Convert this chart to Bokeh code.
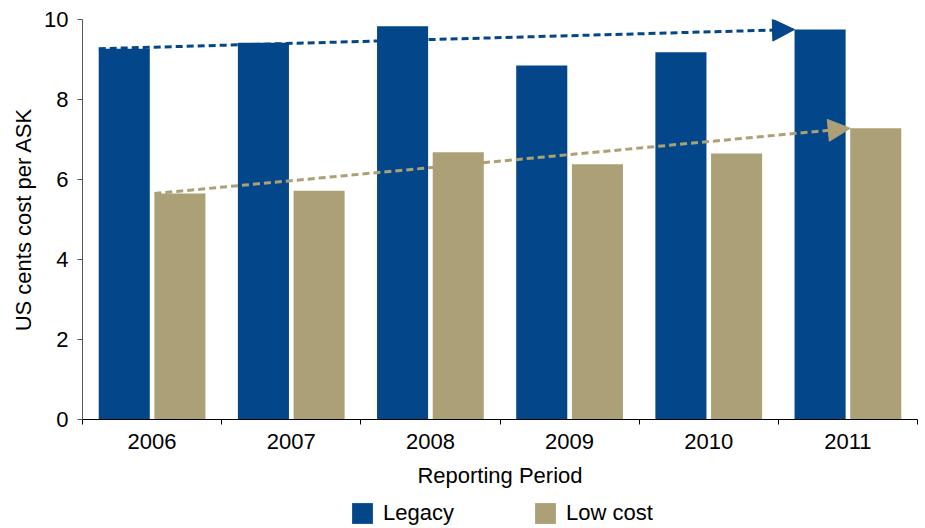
from bokeh.plotting import figure
from bokeh.layouts import column
from bokeh.models import (ColumnDataSource, Range1d, FixedTicker, Arrow, NormalHead,
                          Legend, LegendItem)
from bokeh.embed import file_html
from bokeh.resources import INLINE

years = ["2006", "2007", "2008", "2009", "2010", "2011"]
legacy = [9.27, 9.42, 9.83, 8.85, 9.18, 9.75]
low_cost = [5.65, 5.72, 6.68, 6.38, 6.65, 7.28]
y_ticks = [0, 2, 4, 6, 8, 10]
series_names = ["Legacy", "Low cost"]

LEGACY_COLOR = "#03478A"
LOW_COLOR = "#ACA077"
FONT = "Liberation Sans"
FS = "22px"

n = len(years)
centers = [i + 0.5 for i in range(n)]
OFF = 0.2
BW = 0.367

src = ColumnDataSource(dict(
    x_leg=[c - OFF for c in centers],
    x_low=[c + OFF for c in centers],
    legacy=legacy,
    low=low_cost,
))

p = figure(frame_width=835, frame_height=400, output_backend="svg", toolbar_location=None,
           x_range=Range1d(0, n), y_range=Range1d(0, 10),
           min_border_left=82, min_border_right=8, min_border_top=19,
           min_border_bottom=0)
p.outline_line_color = None
p.xgrid.visible = False
p.ygrid.visible = False

p.vbar(x="x_leg", top="legacy", width=BW, source=src,
       fill_color=LEGACY_COLOR, line_color=None)
p.vbar(x="x_low", top="low", width=BW, source=src,
       fill_color=LOW_COLOR, line_color=None)

# trend arrows from first bar's top-left corner to last bar's top-left corner
for xs, vals, col in ((src.data["x_leg"], legacy, LEGACY_COLOR),
                      (src.data["x_low"], low_cost, LOW_COLOR)):
    p.add_layout(Arrow(
        x_start=xs[0] - BW / 2, y_start=vals[0],
        x_end=xs[-1] - BW / 2, y_end=vals[-1],
        line_color=col, line_width=3, line_dash="7 4",
        end=NormalHead(size=22, fill_color=col, line_color=col, line_width=1),
    ))

# x axis
xa = p.xaxis[0]
xa.ticker = FixedTicker(ticks=centers, minor_ticks=list(range(n + 1)))
xa.major_label_overrides = {c: y for c, y in zip(centers, years)}
xa.major_tick_line_color = None
xa.major_tick_out = 0
xa.major_tick_in = 0
xa.minor_tick_out = 5
xa.minor_tick_in = 0
xa.minor_tick_line_color = "black"
xa.axis_line_color = "black"
xa.major_label_text_font = FONT
xa.major_label_text_font_size = FS
xa.major_label_text_color = "black"
xa.major_label_standoff = 9
xa.axis_label = "Reporting Period"
xa.axis_label_text_font = FONT
xa.axis_label_text_font_size = FS
xa.axis_label_text_font_style = "normal"
xa.axis_label_text_color = "black"
xa.axis_label_standoff = 11

# y axis
ya = p.yaxis[0]
ya.ticker = FixedTicker(ticks=y_ticks)
ya.major_tick_out = 5
ya.major_tick_in = 0
ya.minor_tick_line_color = None
ya.axis_line_color = "#555555"
ya.major_tick_line_color = "#555555"
ya.major_label_text_font = FONT
ya.major_label_text_font_size = FS
ya.major_label_text_color = "black"
ya.major_label_standoff = 9
ya.axis_label = "US cents cost per ASK"
ya.axis_label_text_font = FONT
ya.axis_label_text_font_size = FS
ya.axis_label_text_font_style = "normal"
ya.axis_label_text_color = "black"
ya.axis_label_standoff = 5

# legend strip below the chart (its bars lie outside its visible range,
# they only supply the legend swatches)
pl = figure(frame_width=925, frame_height=38, output_backend="svg", toolbar_location=None,
            x_axis_type=None, y_axis_type=None,
            x_range=Range1d(0, n), y_range=Range1d(100, 101),
            min_border=0)
pl.outline_line_color = None
pl.xgrid.visible = False
pl.ygrid.visible = False
lr1 = pl.vbar(x="x_leg", top="legacy", width=BW, source=src,
              fill_color=LEGACY_COLOR, line_color=None)
lr2 = pl.vbar(x="x_low", top="low", width=BW, source=src,
              fill_color=LOW_COLOR, line_color=None)

legend = Legend(items=[LegendItem(label=series_names[0], renderers=[lr1]),
                       LegendItem(label=series_names[1], renderers=[lr2])],
                orientation="horizontal", location=(349, 2),
                glyph_width=26, glyph_height=26, label_standoff=8,
                label_text_font=FONT, label_text_font_size=FS,
                label_text_color="black",
                spacing=78, padding=0, margin=0,
                border_line_color=None, background_fill_alpha=0)
pl.add_layout(legend, "center")

open("out.html", "w").write(file_html(column(p, pl, spacing=0), INLINE))
